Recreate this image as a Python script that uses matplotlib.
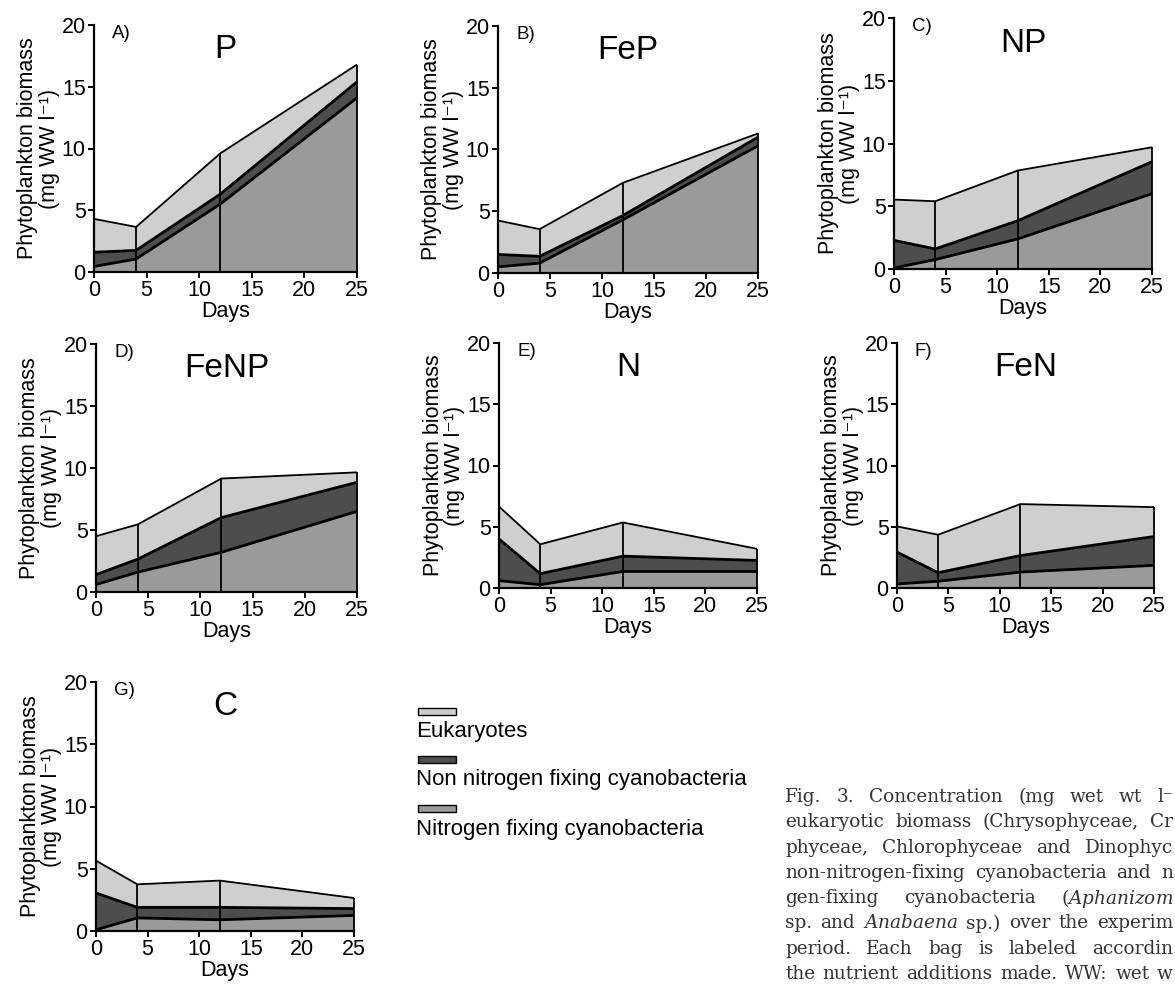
import numpy as np
import matplotlib.pyplot as plt
from matplotlib.patches import Rectangle

plt.rcParams['font.family'] = ['Liberation Sans', 'DejaVu Sans']
plt.rcParams['mathtext.fontset'] = 'custom'
plt.rcParams['mathtext.rm'] = 'DejaVu Serif'
plt.rcParams['mathtext.it'] = 'DejaVu Serif:italic'

days = [0, 4, 12, 25]
treatments = ['P', 'FeP', 'NP', 'FeNP', 'N', 'FeN', 'C']
panel_letters = ['A)', 'B)', 'C)', 'D)', 'E)', 'F)', 'G)']
groups = ['Eukaryotes', 'Non nitrogen fixing cyanobacteria', 'Nitrogen fixing cyanobacteria']

# biomass (mg WW l-1) of each group at each sampling day
n_fixing = {
    'P':    [0.45, 1.05, 5.5, 14.1],
    'FeP':  [0.5, 0.8, 4.3, 10.3],
    'NP':   [0.08, 0.75, 2.4, 6.0],
    'FeNP': [0.6, 1.6, 3.2, 6.5],
    'N':    [0.6, 0.27, 1.35, 1.35],
    'FeN':  [0.33, 0.55, 1.3, 1.85],
    'C':    [0.1, 1.05, 0.9, 1.25],
}
non_fixing = {
    'P':    [1.15, 0.7, 0.8, 1.3],
    'FeP':  [1.0, 0.55, 0.35, 0.7],
    'NP':   [2.2, 0.85, 1.45, 2.55],
    'FeNP': [0.8, 1.05, 2.8, 2.35],
    'N':    [3.4, 0.9, 1.25, 0.9],
    'FeN':  [2.6, 0.7, 1.35, 2.35],
    'C':    [2.95, 0.85, 1.0, 0.55],
}
eukaryotes = {
    'P':    [2.7, 1.9, 3.3, 1.4],
    'FeP':  [2.75, 2.2, 2.65, 0.3],
    'NP':   [3.25, 3.8, 4.0, 1.15],
    'FeNP': [3.1, 2.8, 3.15, 0.8],
    'N':    [2.65, 2.4, 2.75, 0.95],
    'FeN':  [2.1, 3.1, 4.2, 2.4],
    'C':    [2.6, 1.85, 2.15, 0.85],
}

# caption as far as it is visible on the page (cut at the right edge)
caption_lines = [
    'Fig. 3. Concentration (mg wet wt l\u207b',
    'eukaryotic biomass (Chrysophyceae, Cr',
    'phyceae, Chlorophyceae and Dinophyc',
    'non-nitrogen-fixing cyanobacteria and n',
    r'gen-fixing cyanobacteria ($\mathit{Aphanizom}$',
    r'sp. and $\mathit{Anabaena}$ sp.) over the experim',
    'period. Each bag is labeled accordin',
    'the nutrient additions made. WW: wet w',
]

c_euk, c_non, c_fix = '#cfcfcf', '#4d4d4d', '#9a9a9a'

W, H = 1175, 986
fig = plt.figure(figsize=(W / 100, H / 100), dpi=100)

# axes boxes in pixels: left, top, right, bottom
boxes = [(94, 25, 357, 272), (498, 26, 758, 273), (894, 18, 1152, 269),
         (96, 344, 357, 592), (499, 343, 757, 588), (897, 343, 1154, 588),
         (96, 682, 354, 931)]

for name, letter, (l, t, r, b) in zip(treatments, panel_letters, boxes):
    ax = fig.add_axes([l / W, 1 - b / H, (r - l) / W, (b - t) / H])
    nf = np.array(n_fixing[name])
    nn = np.array(non_fixing[name])
    eu = np.array(eukaryotes[name])
    ax.stackplot(days, nf, nn, eu, colors=[c_fix, c_non, c_euk], lw=0)
    ax.plot(days, nf, color='k', lw=2.0, clip_on=False, solid_capstyle='butt')
    ax.plot(days, nf + nn, color='k', lw=2.0, clip_on=False, solid_capstyle='butt')
    ax.plot(days, nf + nn + eu, color='k', lw=1.3, clip_on=False, solid_capstyle='butt')
    ax.vlines(days[1:], 0, (nf + nn + eu)[1:], color='k', lw=1.3, clip_on=False)

    ax.set_xlim(0, 25)
    ax.set_ylim(0, 20)
    ax.set_xticks([0, 5, 10, 15, 20, 25])
    ax.set_yticks([0, 5, 10, 15, 20])
    for s in ['top', 'right']:
        ax.spines[s].set_visible(False)
    for s in ['left', 'bottom']:
        ax.spines[s].set_linewidth(1.6)
    ax.tick_params(direction='out', length=4, width=1.4, labelsize=15.5, pad=2)
    ax.set_xlabel('Days', fontsize=15.5, labelpad=0)
    ax.set_ylabel('Phytoplankton biomass\n(mg WW l\u207b\u00b9)', fontsize=15.5, linespacing=1.05)
    ax.yaxis.set_label_coords(-0.13, 0.5)
    ax.text(0.07, 0.965, letter, transform=ax.transAxes, fontsize=13.5, va='center', ha='left')
    ax.text(0.5, 0.9, name, transform=ax.transAxes, fontsize=24, va='center', ha='center')

# legend: swatch above each label
legend_y = [711, 759, 808]
legend_colors = [c_euk, c_non, c_fix]
for g, y, c in zip(groups, legend_y, legend_colors):
    fig.add_artist(Rectangle((418 / W, 1 - (y + 3.5) / H), 38 / W, 7 / H,
                             transform=fig.transFigure, fc=c, ec='k', lw=1))
    fig.text(416 / W, 1 - (y + 21) / H, g, fontsize=16, va='center', ha='left')

# justified caption lines
renderer = fig.canvas.get_renderer()
x0, x_right = 785, 1173
for i, line in enumerate(caption_lines):
    y = 1 - (797 + i * 25.3) / H
    words = line.split(' ')
    texts = [fig.text(0, y, w, fontsize=13.3, family='DejaVu Serif',
                      color='#333333', va='center', ha='left') for w in words]
    widths = [tx.get_window_extent(renderer).width for tx in texts]
    space = max(4.0, (x_right - x0 - sum(widths)) / (len(words) - 1))
    x = x0
    for tx, w in zip(texts, widths):
        tx.set_x(x / W)
        x += w + space

fig.savefig('out.png', dpi=100)
